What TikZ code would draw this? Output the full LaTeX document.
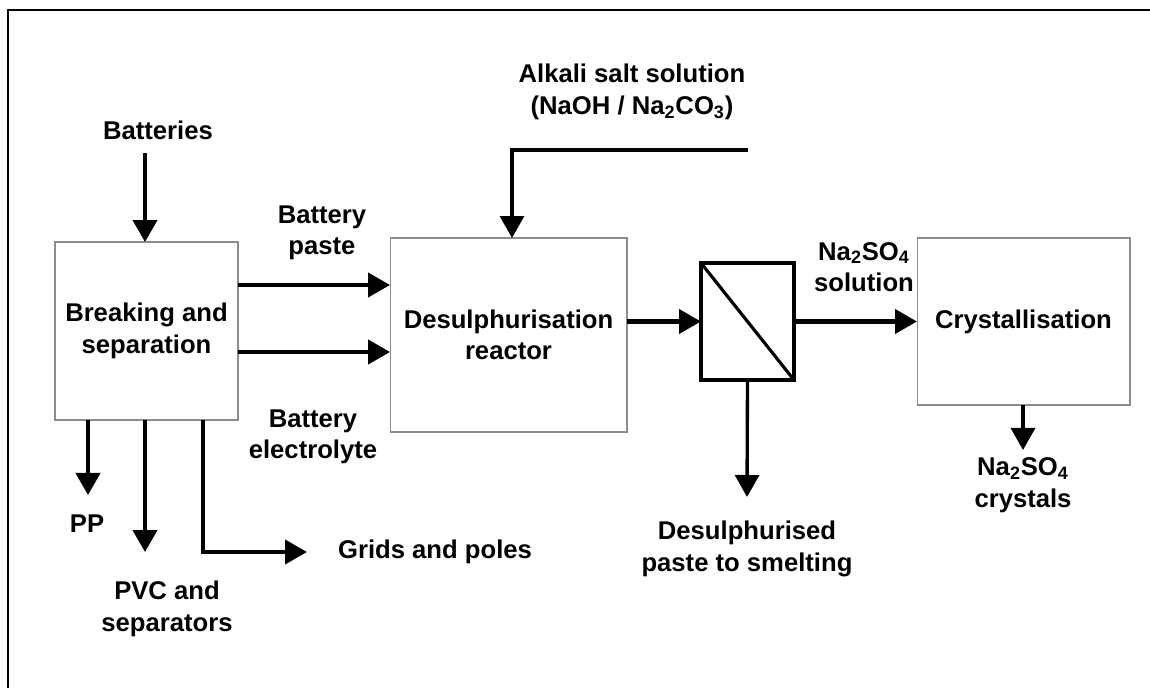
\documentclass[tikz,border=0pt]{standalone}
\usepackage{fontspec}
\setmainfont{Liberation Sans}
\usetikzlibrary{arrows.meta,positioning}

\begin{document}
\begin{tikzpicture}[x=0.02cm,y=-0.02cm,line join=miter,
  every node/.style={font=\fontsize{14.6}{18}\selectfont\bfseries},
  unit/.style={draw=black!45,line width=0.6pt,inner sep=0pt,outer sep=0pt,align=center},
  lbl/.style={align=center,inner sep=1pt},
  flow/.style={line width=2.3pt,-{Triangle[length=0.44cm,width=0.48cm]}},
  thinflow/.style={flow,line width=1.9pt}]
  \useasboundingbox (0,0) rectangle (1150,688);
  % frame
  \draw[line width=1.6pt] (8,688) -- (8,10) -- (1150,10);

  % process units
  \node[unit,minimum width=3.66cm,minimum height=3.56cm] (brk) at (146.5,331) {Breaking and\\separation};
  \node[unit,minimum width=4.74cm,minimum height=3.88cm] (reactor) at (508.5,335) {Desulphurisation\\reactor};
  \node[draw,line width=1.8pt,inner sep=0pt,outer sep=0pt,minimum width=1.86cm,minimum height=2.34cm] (filter) at (747.5,321.5) {};
  \draw[line width=1.8pt] (filter.north west) -- (filter.south east);
  \node[unit,minimum width=4.26cm,minimum height=3.34cm] (cryst) at (1023.5,321.5) {Crystallisation};

  % labels
  \node[lbl] (batt) at (158,130) {Batteries};
  \node[lbl] (paste) at (322,233) {Battery\\paste};
  \node[lbl] (elec) at (313,437) {Battery\\electrolyte};
  \node[lbl] (alkali) at (632,92) {Alkali salt solution\\(NaOH / Na\textsubscript{2}CO\textsubscript{3})};
  \node[lbl] (sol) at (864,267) {Na\textsubscript{2}SO\textsubscript{4}\\solution};
  \node[lbl] (smelt) at (747,549) {Desulphurised\\paste to smelting};
  \node[lbl] (crys) at (1023,485) {Na\textsubscript{2}SO\textsubscript{4}\\crystals};
  \node[lbl] (pp) at (87,524) {PP};
  \node[lbl] (pvc) at (167,609) {PVC and\\separators};

  % end points and bends
  \coordinate (battin) at (145,153);
  \coordinate (pasteY) at (0,285);
  \coordinate (elecY) at (0,352);
  \coordinate (alkstart) at (748,150);
  \coordinate (alkbend) at (512,150);
  \coordinate (smeltend) at (747,497);
  \coordinate (crysend) at (1023,450);
  \coordinate (ppend) at (88,495);
  \coordinate (pvcend) at (145,552);
  \coordinate (gridbend) at (203,552);
  \coordinate (gridend) at (307,552);
  \node[lbl,right=0.58cm of gridend] (grids) {Grids and poles};

  % flows
  \draw[flow] (battin) -- (battin |- brk.north);
  \draw[flow] (brk.east |- pasteY) -- (reactor.west |- pasteY);
  \draw[flow] (brk.east |- elecY) -- (reactor.west |- elecY);
  \draw[thinflow] (alkstart) -- (alkbend) -- (alkbend |- reactor.north);
  \draw[flow] (reactor.east |- filter.west) -- (filter.west);
  \draw[flow] (filter.east) -- (cryst.west);
  \draw[thinflow] (filter.south) -- (smeltend);
  \draw[thinflow] (cryst.south -| crysend) -- (crysend);
  \draw[flow] (brk.south -| ppend) -- (ppend);
  \draw[flow] (brk.south -| pvcend) -- (pvcend);
  \draw[flow] (brk.south -| gridbend) -- (gridbend) -- (gridend);
\end{tikzpicture}
\end{document}
